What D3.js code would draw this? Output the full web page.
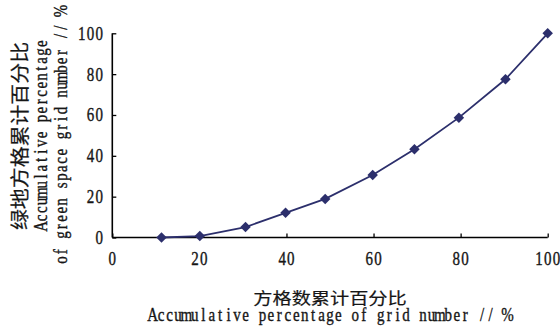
<!DOCTYPE html>
<html><head><meta charset="utf-8">
<script src="https://cdn.jsdelivr.net/npm/d3@7"></script>
<style>html,body{margin:0;padding:0;background:#fff;}svg{display:block;}</style>
</head><body>
<svg id="c" width="560" height="326"></svg>
<script>
const gridPct = [11.3, 20.1, 30.6, 39.8, 48.9, 59.8, 69.4, 79.6, 90.3, 100];
const greenPct = [0, 0.7, 5.1, 12.1, 18.9, 30.6, 43.2, 58.7, 77.5, 100];
const xTicks = [0, 20, 40, 60, 80, 100];
const yTicks = [0, 20, 40, 60, 80, 100];
const xTitleZh = "方格数累计百分比";
const xTitleEn = "Accumulative percentage of grid number // %";
const yTitleZh = "绿地方格累计百分比";
const yTitleEn1 = "Accumulative percentage";
const yTitleEn2 = "of green space grid number // %";

const svg = d3.select("#c");
const x = d3.scaleLinear().domain([0, 100]).range([112.3, 547.7]);
const y = d3.scaleLinear().domain([0, 100]).range([237.5, 33.3]);
const SERIF = "'Liberation Serif', 'DejaVu Serif', serif";
const CJK = "'Noto Sans CJK SC', sans-serif";
const navy = "#2c2f6c";
const ink = "#161616";

// monospaced-cell serif text (mimics SimSun-style half-width Latin)
function monoText(px, py, str, opt) {
  const adv = opt.adv, n = str.length, total = n * adv;
  const start = opt.anchor === "end" ? -total : opt.anchor === "start" ? 0 : -total / 2;
  const g = svg.append("g")
    .attr("transform", `translate(${px},${py}) rotate(${opt.rot || 0}) scale(1,${opt.sy || 1})`);
  const t = g.append("text").attr("y", 0)
    .attr("text-anchor", "middle")
    .attr("font-family", SERIF).attr("font-size", opt.size)
    .attr("fill", ink).attr("stroke", ink).attr("stroke-width", opt.sw || 0.3);
  [...str].forEach((ch, i) => {
    if (ch === " ") return;
    t.append("tspan").attr("x", start + adv * (i + 0.5)).attr("y", 0).text(ch);
  });
  return g;
}
function cjkText(px, py, str, opt) {
  const g = svg.append("g")
    .attr("transform", `translate(${px},${py}) rotate(${opt.rot || 0}) scale(${opt.sx || 1},1)`);
  g.append("text").attr("text-anchor", "middle")
    .attr("font-family", CJK).attr("font-size", opt.size)
    .attr("fill", ink).attr("stroke", ink).attr("stroke-width", 0.2)
    .text(str);
  return g;
}

// axes
const ax = svg.append("g").attr("transform", `translate(0,${y(0)})`)
  .call(d3.axisBottom(x).tickValues(xTicks).tickSize(-4).tickFormat(""));
const ay = svg.append("g").attr("transform", `translate(${x(0)},0)`)
  .call(d3.axisLeft(y).tickValues(yTicks).tickSize(-4).tickFormat(""));
[ax, ay].forEach(a => {
  a.select(".domain").attr("stroke", "#000").attr("stroke-width", 1.6);
  a.selectAll(".tick line").attr("stroke", "#000").attr("stroke-width", 1.3);
});
ax.select(".domain").attr("d", `M${x(0)},0H${x(100)}`);
ay.select(".domain").attr("d", `M0,${y(100)}V${y(0)}`);

// tick labels
xTicks.forEach(t => monoText(x(t), 265, String(t), {adv: 8.7, size: 15, sy: 1.3}));
yTicks.forEach(t => monoText(103.5, y(t) + 6.5, String(t), {adv: 8.7, size: 15, sy: 1.3, anchor: "end"}));

// line + markers
const pts = gridPct.map((d, i) => [x(d), y(greenPct[i])]);
svg.append("path").attr("d", d3.line()(pts))
  .attr("fill", "none").attr("stroke", navy).attr("stroke-width", 1.8);
svg.selectAll(".m").data(pts).enter().append("path")
  .attr("d", d3.symbol().type(d3.symbolSquare).size(55))
  .attr("transform", d => `translate(${d[0]},${d[1]}) rotate(45)`)
  .attr("fill", navy);

// axis titles
cjkText(330, 303.5, xTitleZh, {size: 16, sx: 1.2});
monoText(330, 321, xTitleEn, {adv: 8.45, size: 15, sy: 1.3});
cjkText(26.5, 136, yTitleZh, {size: 19, rot: -90, sx: 1.1});
monoText(46.5, 135, yTitleEn1, {adv: 8.3, size: 15, sy: 1.3, rot: -90});
monoText(66.5, 135.5, yTitleEn2, {adv: 8.3, size: 15, sy: 1.3, rot: -90});
</script>
</body></html>
